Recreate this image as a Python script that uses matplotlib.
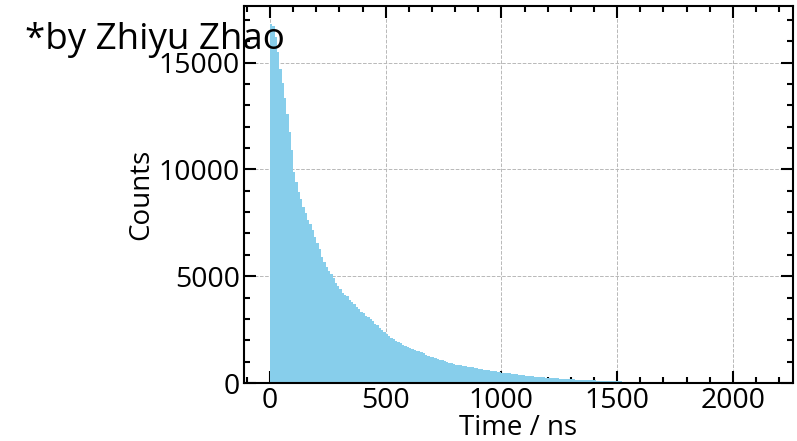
import numpy as np
import matplotlib
matplotlib.use("Agg")
import matplotlib.pyplot as plt

# Histogram of decay times: bin width 10 ns starting at 0 ns
time_start_ns = 0
bin_width_ns = 10
counts = [
    16800, 16700, 16200, 15500, 14700, 14050, 13350, 12600, 11750, 10900,   # 0-90
    9900, 9400, 8950, 8600, 8250, 7950, 7650, 7450, 7150, 6850,             # 100-190
    6550, 6250, 5900, 5650, 5450, 5250, 5080, 4920, 4700, 4530,             # 200-290
    4400, 4220, 4130, 4050, 3880, 3800, 3680, 3560, 3460, 3340,             # 300-390
    3280, 3160, 3080, 2980, 2900, 2780, 2700, 2590, 2460, 2380,             # 400-490
    2280, 2200, 2110, 2050, 1960, 1920, 1850, 1790, 1740, 1690,             # 500-590
    1640, 1600, 1560, 1520, 1480, 1430, 1400, 1310, 1260, 1230,             # 600-690
    1200, 1170, 1130, 1090, 1060, 1020, 980, 950, 920, 890,                 # 700-790
    860, 840, 820, 810, 780, 760, 750, 730, 710, 680,                       # 800-890
    660, 640, 630, 620, 600, 580, 560, 550, 530, 510,                       # 900-990
    490, 480, 465, 450, 435, 420, 405, 390, 375, 360,                       # 1000-1090
    345, 335, 320, 310, 300, 290, 280, 270, 260, 252,                       # 1100-1190
    245, 238, 230, 222, 215, 208, 200, 193, 186, 180,                       # 1200-1290
    175, 168, 162, 156, 150, 145, 140, 134, 129, 124,                       # 1300-1390
    120, 115, 110, 105, 100, 95, 92, 88, 84, 80,                            # 1400-1490
    75, 72, 69, 66, 62, 58, 56, 53, 50, 48,                                 # 1500-1590
    45, 43, 41, 39, 37, 35, 33, 31, 29, 27,                                 # 1600-1690
    26, 25, 23, 22, 21, 20, 19, 18, 17, 16,                                 # 1700-1790
    15, 14, 13, 12, 12, 11, 10, 10, 9, 9,                                   # 1800-1890
    8, 8, 7, 7, 7, 6, 6, 6, 5, 5,                                           # 1900-1990
    5, 5, 4, 4, 4, 4, 3, 3, 3, 3,                                           # 2000-2090
    3, 3, 2, 2, 2,                                                          # 2100-2140
]

x_ticks = [0, 500, 1000, 1500, 2000]
y_ticks = [0, 5000, 10000, 15000]
x_label = "Time / ns"
y_label = "Counts"
credit = "*by Zhiyu Zhao"

plt.rcParams['font.family'] = ['Open Sans', 'DejaVu Sans']

fig = plt.figure(figsize=(7.97, 4.41), dpi=100)
ax = fig.add_axes([0.306, 0.1315, 0.689, 0.855])

edges = time_start_ns + bin_width_ns * np.arange(len(counts) + 1)
ax.stairs(counts, edges, fill=True, color='skyblue', zorder=2)

ax.set_xlim(-113, 2260)
ax.set_ylim(0, 17650)
ax.set_xticks(x_ticks)
ax.set_yticks(y_ticks)
ax.xaxis.set_minor_locator(matplotlib.ticker.MultipleLocator(100))
ax.yaxis.set_minor_locator(matplotlib.ticker.MultipleLocator(1000))

ax.set_axisbelow(True)
ax.grid(True, which='major', linestyle='--', color='#b8b8b8', linewidth=0.7)

ax.tick_params(which='both', direction='in', top=True, right=True, labelsize=20.5)
ax.tick_params(which='major', length=8.5, width=1.5, pad=3)
ax.tick_params(which='minor', length=4, width=1.5)
for s in ax.spines.values():
    s.set_linewidth(1.5)

ax.set_xlabel(x_label, fontsize=20, labelpad=-1)
ax.set_ylabel(y_label, fontsize=20, labelpad=2)

fig.text(0.031, 0.888, credit, fontsize=26.5, ha='left', va='baseline')

fig.savefig("out.png", dpi=100)
